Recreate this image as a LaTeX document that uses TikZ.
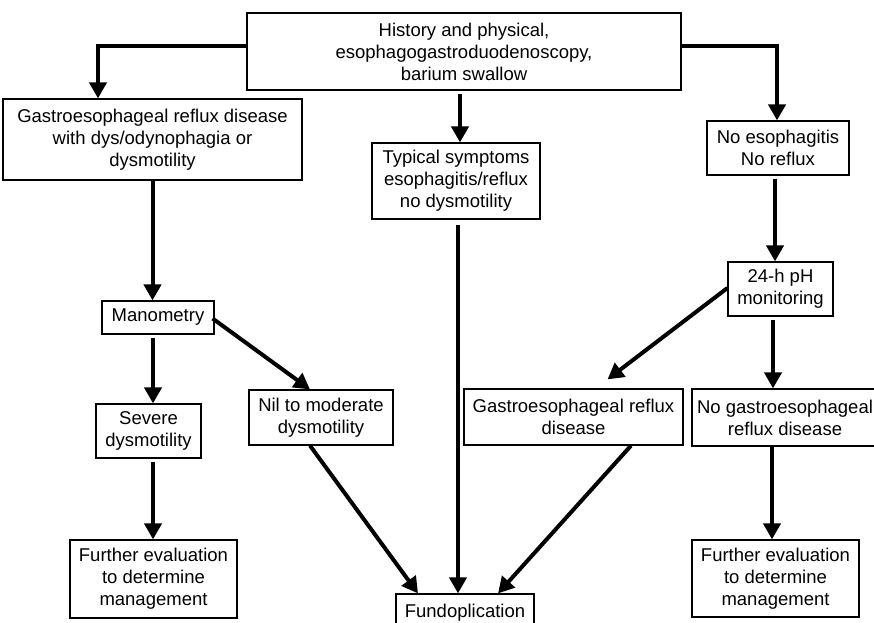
\documentclass[tikz,border=0pt]{standalone}
\usepackage{fontspec}
\setmainfont{Liberation Sans}
\usetikzlibrary{arrows.meta,calc}
\begin{document}
\begin{tikzpicture}[x=1pt,y=-1pt,
  box/.style={draw,line width=1.2pt,rectangle,inner sep=0pt,align=center,
    font=\fontsize{18.5}{22}\selectfont},
  arr/.style={line width=4pt,-{Triangle[width=17pt,length=16pt]}}]
\path[use as bounding box,clip] (0,0) rectangle (874,622);
\fill[white] (0,0) rectangle (874,622);
\node[box,minimum width=434pt,minimum height=77pt] (top) at (464,51.5)
  {History and physical,\\esophagogastroduodenoscopy,\\barium swallow};
\node[box,minimum width=299pt,minimum height=81pt] (gerdL) at (152.5,139.5)
  {Gastroesophageal reflux disease\\with dys/odynophagia or\\dysmotility};
\node[box,minimum width=168pt,minimum height=76pt] (typical) at (456,181)
  {Typical symptoms\\esophagitis/reflux\\no dysmotility};
\node[box,minimum width=142pt,minimum height=54pt] (noesoph) at (778,148)
  {No esophagitis\\No reflux};
\node[box,minimum width=105pt,minimum height=54pt] (ph) at (780.5,289)
  {24-h pH\\monitoring};
\node[box,minimum width=112pt,minimum height=33pt] (mano) at (158,317.5)
  {Manometry};
\node[box,minimum width=105pt,minimum height=54pt] (severe) at (148.5,431)
  {Severe\\dysmotility};
\node[box,minimum width=144pt,minimum height=55pt] (nil) at (321,417.5)
  {Nil to moderate\\dysmotility};
\node[box,minimum width=219pt,minimum height=56pt] (gerdR) at (573.5,417)
  {Gastroesophageal reflux\\disease};
\node[box,minimum width=186pt,minimum height=57pt] (nogerd) at (785,417.5)
  {No gastroesophageal\\reflux disease};
\node[box,minimum width=167pt,minimum height=78pt] (furtherL) at (153.5,579)
  {Further evaluation\\to determine\\management};
\node[box,minimum width=167pt,minimum height=77pt] (furtherR) at (775.5,578.5)
  {Further evaluation\\to determine\\management};
\node[box,minimum width=138pt,minimum height=38pt] (fundo) at (465,613)
  {Fundoplication};
% connectors
\draw[arr] ([yshift=5.5pt]top.west) -| ([xshift=-54.5pt]gerdL.north);
\draw[arr] ([yshift=5.5pt]top.east) -| ([xshift=-1pt]noesoph.north);
\draw[arr,shorten <=3pt] ([xshift=-4pt]top.south) -- ([xshift=4pt]typical.north);
\draw[arr,shorten <=3pt] ([xshift=-3pt]noesoph.south) -- ([xshift=-3pt]noesoph.south |- ph.north);
\draw[arr] (gerdL.south) -- (gerdL.south |- mano.north);
\draw[arr,shorten <=3pt] ([xshift=-5pt]mano.south) -- ([xshift=-5pt]mano.south |- severe.north);
\draw[arr] ([xshift=-2pt,yshift=-1pt]mano.east) -- ([xshift=-11pt]nil.north);
\draw[arr,shorten <=3pt] ([xshift=4.5pt]severe.south) -- ([xshift=4.5pt]severe.south |- furtherL.north);
\draw[arr] ([xshift=-11pt]nil.south) -- ([xshift=-47pt]fundo.north);
\draw[arr,shorten <=5pt] ([xshift=2pt]typical.south) -- ([xshift=2pt]typical.south |- fundo.north);
\draw[arr] ([xshift=57.5pt]gerdR.south) -- ([xshift=33pt]fundo.north);
\draw[arr] ([yshift=1pt]ph.west) -- ([xshift=34pt,yshift=9pt]gerdR.north);
\draw[arr,shorten <=3pt] ([xshift=-7.5pt]ph.south) -- ([xshift=-7.5pt]ph.south |- nogerd.north);
\draw[arr] ([xshift=-13pt]nogerd.south) -- ([xshift=-13pt]nogerd.south |- furtherR.north);
\end{tikzpicture}
\end{document}
